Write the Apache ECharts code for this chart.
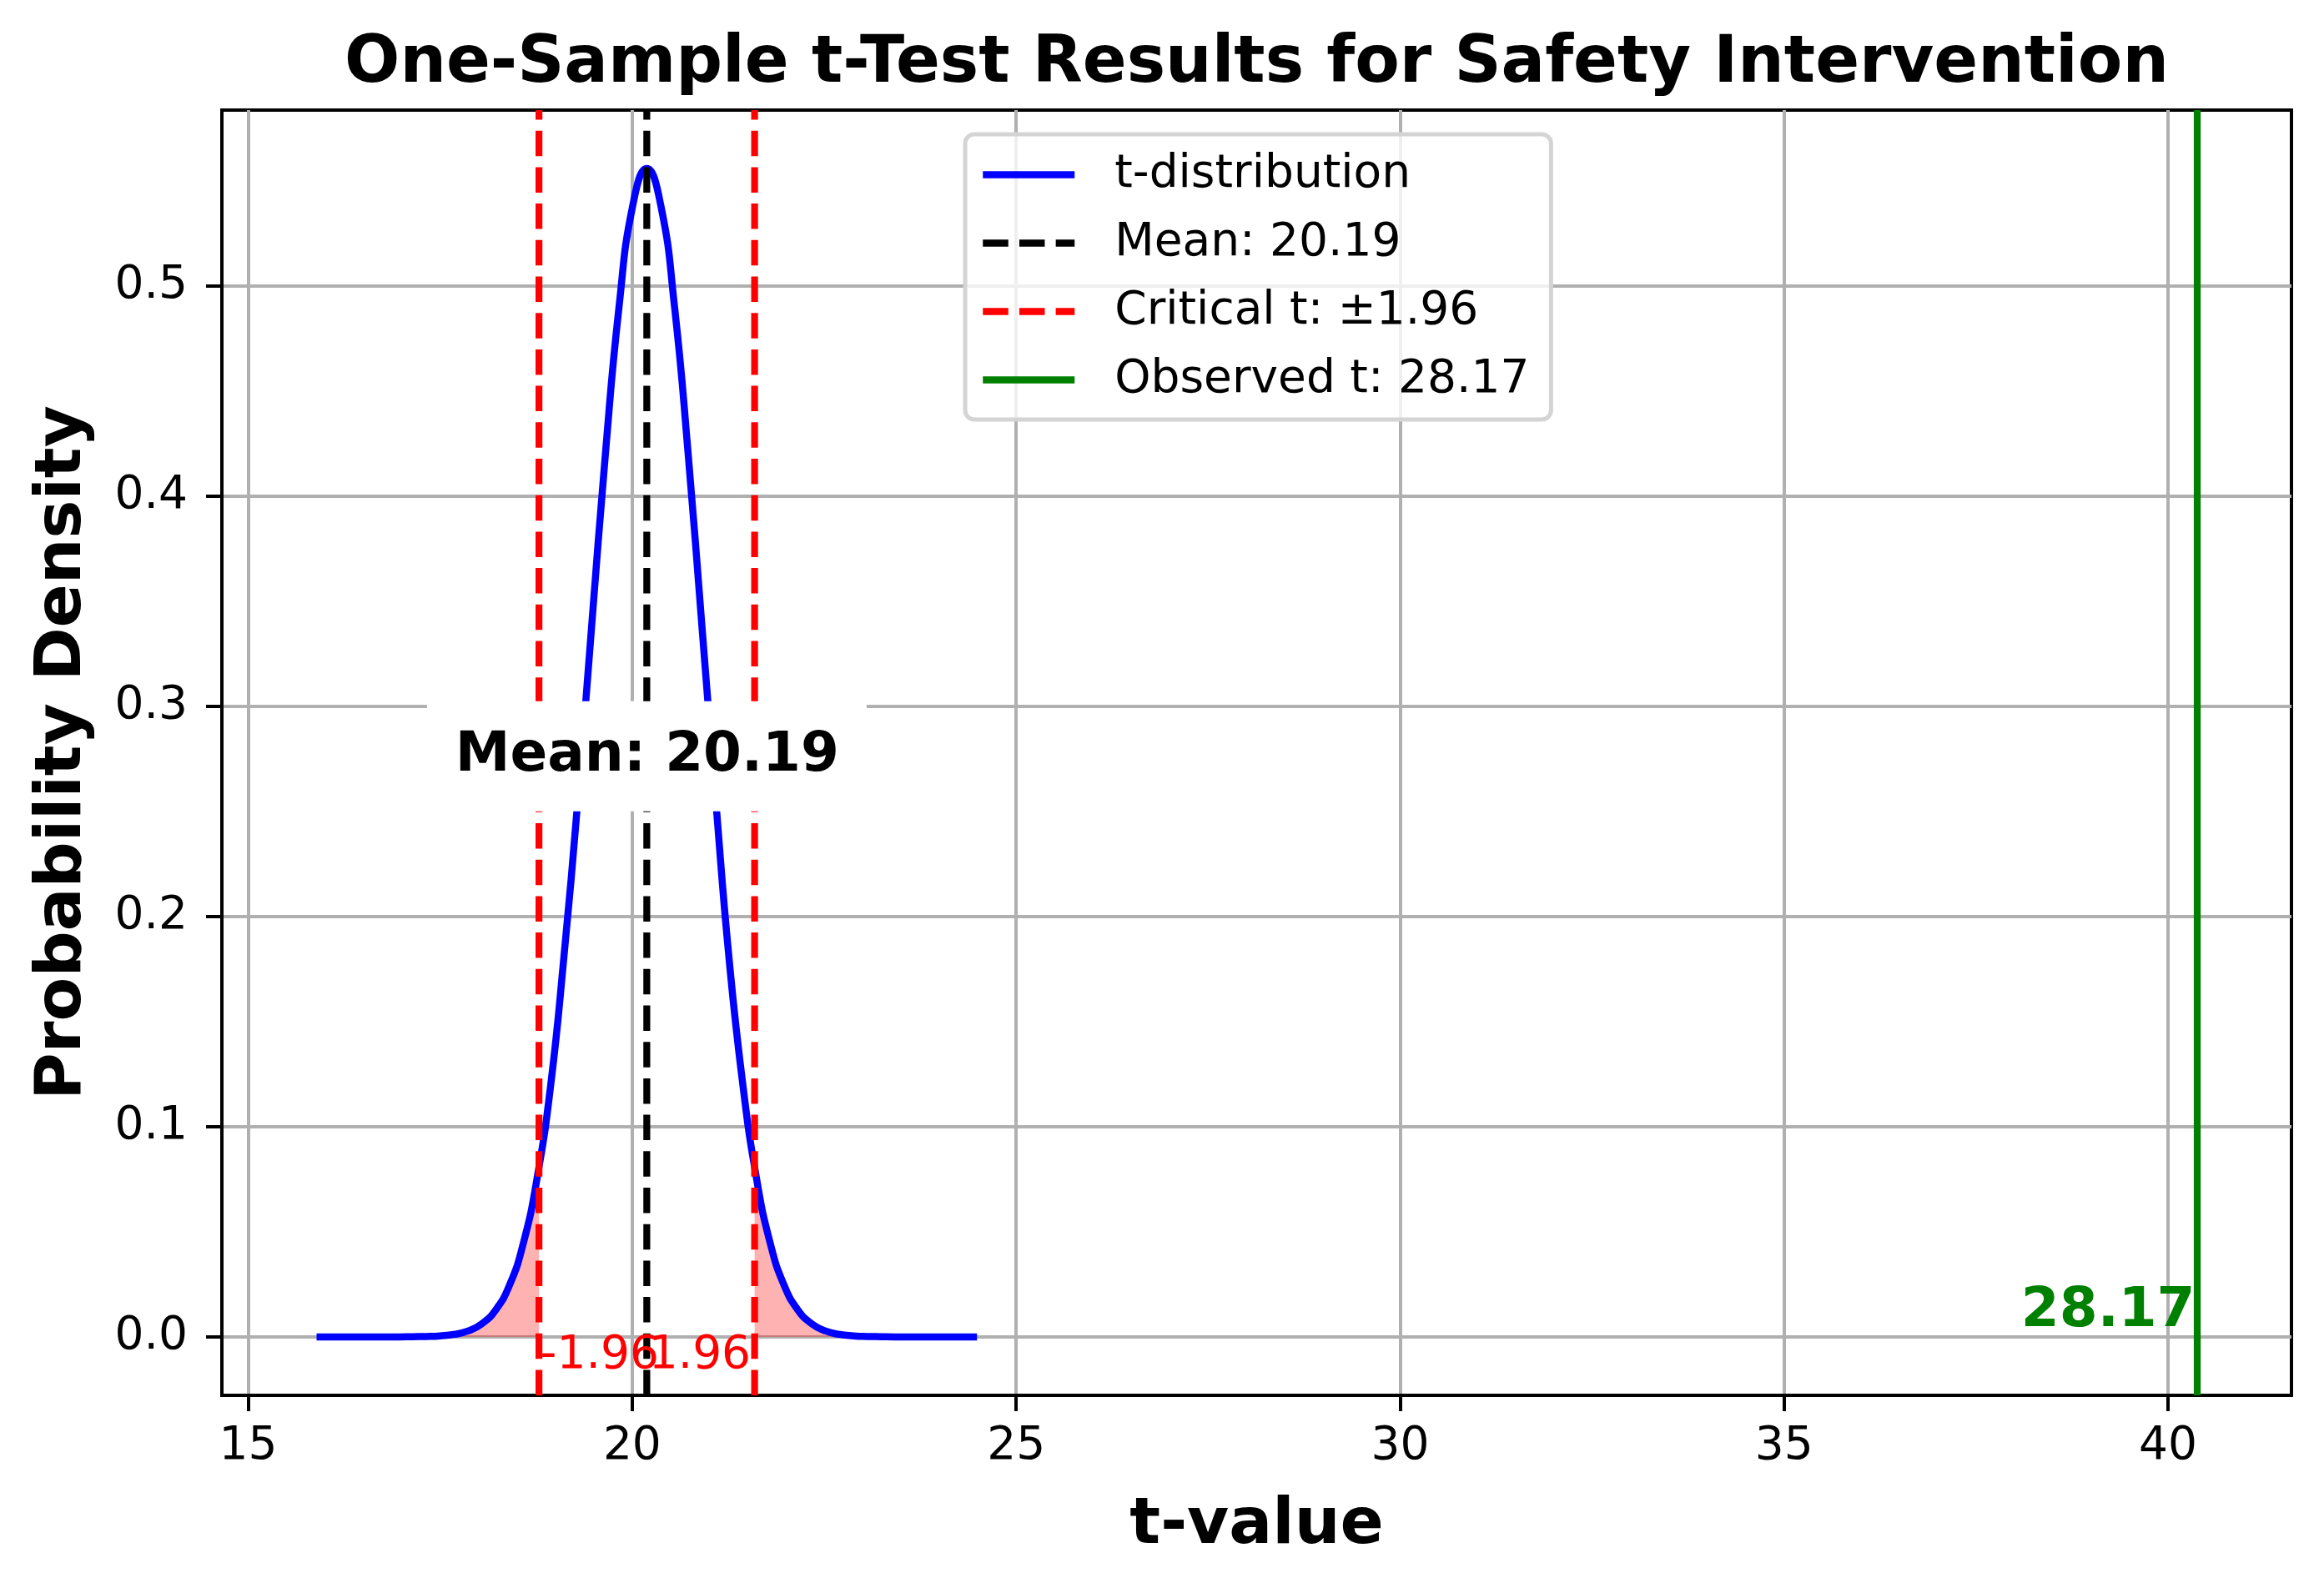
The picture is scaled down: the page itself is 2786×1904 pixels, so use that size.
<!DOCTYPE html>
<html><head><meta charset="utf-8">
<script src="https://cdn.jsdelivr.net/npm/echarts@6/dist/echarts.min.js"></script>
<style>html,body{margin:0;padding:0;background:#fff}#c{width:2786px;height:1904px}</style>
</head><body><div id="c"></div>
<script>
// ---- data ----
const curveX = [15.89, 16.25, 16.61, 16.97, 17.14, 17.32, 17.50, 17.68, 17.86, 18.04, 18.22, 18.40, 18.58, 18.76, 18.94, 19.11, 19.29, 19.47, 19.65, 19.83, 20.01, 20.19, 20.37, 20.55, 20.73, 20.91, 21.09, 21.26, 21.44, 21.62, 21.80, 21.98, 22.16, 22.34, 22.52, 22.70, 22.88, 23.06, 23.24, 23.41, 23.77, 24.13, 24.49];
const curveDensity = [0, 0, 0, 0, 0.0001, 0.0002, 0.0005, 0.0012, 0.0028, 0.0062, 0.0127, 0.0244, 0.0442, 0.0752, 0.1202, 0.1805, 0.2545, 0.3372, 0.4196, 0.4906, 0.5388, 0.5559, 0.5388, 0.4906, 0.4196, 0.3372, 0.2545, 0.1805, 0.1202, 0.0752, 0.0442, 0.0244, 0.0127, 0.0062, 0.0028, 0.0012, 0.0005, 0.0002, 0.0001, 0, 0, 0, 0];
const meanValue = 20.19;
const criticalT = 1.96;
const criticalX = [18.786, 21.594];
const criticalDensity = 0.0814;
const observedT = 28.17;
const observedX = 40.38;
const meanLabelY = 0.279;
const xTicks = [15, 20, 25, 30, 35, 40];
const yTicks = [0, 0.1, 0.2, 0.3, 0.4, 0.5];
const xRange = [14.657, 41.607];
const yRange = [-0.0278, 0.5837];
const legendNames = ['t-distribution', 'Mean: ' + meanValue.toFixed(2), 'Critical t: \u00b1' + criticalT.toFixed(2), 'Observed t: ' + observedT.toFixed(2)];
const titleText = 'One-Sample t-Test Results for Safety Intervention';

// ---- build ----
const FONT = '"DejaVu Sans", sans-serif';
const curve = curveX.map((x, i) => [x, curveDensity[i]]);
const leftTail = curve.filter(p => p[0] <= criticalX[0]).concat([[criticalX[0], criticalDensity]]);
const rightTail = [[criticalX[1], criticalDensity]].concat(curve.filter(p => p[0] >= criticalX[1]));
const vline = x => [[x, yRange[0]], [x, yRange[1]]];

const TITLE_FS = 78;
const meas = document.createElement('canvas').getContext('2d');
meas.font = 'bold ' + TITLE_FS + 'px "DejaVu Sans"';
const titleW = meas.measureText(titleText).width;
const gridL = 266, gridR = 39, gridT = 132, gridB = 231;
const gridCx = gridL + (2786 - gridL - gridR) / 2;

const chart = echarts.init(document.getElementById('c'), null, {renderer: 'canvas'});
const dash = [30.5, 13.2];
chart.setOption({
  animation: false,
  backgroundColor: '#fff',
  textStyle: {fontFamily: FONT},
  title: {
    text: titleText, left: gridCx - titleW / 2, top: 39, padding: 0,
    textStyle: {fontFamily: FONT, fontSize: TITLE_FS, fontWeight: 'bold', color: '#000', lineHeight: 78}
  },
  grid: {left: gridL, right: gridR, top: gridT, bottom: gridB, show: true, borderColor: '#000', borderWidth: 4, backgroundColor: '#fff'},
  legend: {
    data: legendNames.map(n => ({name: n})),
    orient: 'vertical', left: 1157, top: 161,
    itemWidth: 110, itemHeight: 20, itemGap: 27,
    padding: [21, 26, 20, 17],
    backgroundColor: 'rgba(255,255,255,0.8)', borderColor: '#d4d4d4', borderWidth: 5, borderRadius: 11,
    itemStyle: {opacity: 0},
    lineStyle: {width: 8.5},
    textStyle: {fontFamily: FONT, fontSize: 55, lineHeight: 55, color: '#000', padding: [0, 0, 0, 43]},
    selectedMode: false
  },
  xAxis: {
    type: 'value', min: xRange[0], max: xRange[1],
    name: 't-value', nameLocation: 'middle', nameGap: 118,
    nameTextStyle: {fontFamily: FONT, fontSize: 77, fontWeight: 'bold', color: '#000', lineHeight: 77},
    axisLine: {show: true, onZero: false, lineStyle: {color: '#000', width: 4}},
    axisTick: {show: true, inside: false, length: 19, lineStyle: {color: '#000', width: 4}, customValues: xTicks},
    axisLabel: {show: true, margin: 34, fontFamily: FONT, fontSize: 55, color: '#000', customValues: xTicks, formatter: v => String(v)},
    splitLine: {show: true, lineStyle: {color: '#b0b0b0', width: 4}}
  },
  yAxis: {
    type: 'value', min: yRange[0], max: yRange[1],
    name: 'Probability Density', nameLocation: 'middle', nameGap: 152,
    nameTextStyle: {fontFamily: FONT, fontSize: 77, fontWeight: 'bold', color: '#000', lineHeight: 77},
    axisLine: {show: true, onZero: false, lineStyle: {color: '#000', width: 4}},
    axisTick: {show: true, inside: false, length: 19, lineStyle: {color: '#000', width: 4}, customValues: yTicks},
    axisLabel: {show: true, margin: 41, fontFamily: FONT, fontSize: 55, color: '#000', customValues: yTicks, formatter: v => v.toFixed(1)},
    splitLine: {show: true, lineStyle: {color: '#b0b0b0', width: 4}}
  },
  series: [
    {type: 'line', name: legendNames[0], data: curve, smooth: true, symbol: 'none', silent: true, z: 2,
     lineStyle: {color: '#0000ff', width: 8.5}, itemStyle: {color: '#0000ff'}},
    {type: 'line', name: 'tailL', data: leftTail, smooth: true, symbol: 'none', silent: true, z: 2,
     lineStyle: {width: 0}, areaStyle: {color: 'rgba(255,0,0,0.3)', opacity: 1}},
    {type: 'line', name: 'tailR', data: rightTail, smooth: true, symbol: 'none', silent: true, z: 2,
     lineStyle: {width: 0}, areaStyle: {color: 'rgba(255,0,0,0.3)', opacity: 1}},
    {type: 'line', name: legendNames[1], data: vline(meanValue), symbol: 'none', silent: true, z: 3,
     lineStyle: {color: '#000', width: 8.25, type: dash, cap: 'butt'}, itemStyle: {color: '#000'}},
    {type: 'line', name: legendNames[2], data: vline(criticalX[0]), symbol: 'none', silent: true, z: 3,
     lineStyle: {color: '#ff0000', width: 8.25, type: dash, cap: 'butt'}, itemStyle: {color: '#ff0000'}},
    {type: 'line', name: legendNames[2], data: vline(criticalX[1]), symbol: 'none', silent: true, z: 3,
     lineStyle: {color: '#ff0000', width: 8.25, type: dash, cap: 'butt'}, itemStyle: {color: '#ff0000'}},
    {type: 'line', name: legendNames[3], data: vline(observedX), symbol: 'none', silent: true, z: 3,
     lineStyle: {color: '#008000', width: 8.25}, itemStyle: {color: '#008000'}},
    {type: 'scatter', name: 'labels', symbolSize: 1, silent: true, z: 10,
     itemStyle: {color: 'rgba(0,0,0,0)', opacity: 1},
     data: [
       {value: [meanValue, meanLabelY], label: {show: true, formatter: 'Mean: ' + meanValue.toFixed(2), position: 'inside', offset: [0, 7],
         fontFamily: FONT, fontSize: 66, fontWeight: 'bold', color: '#000', opacity: 1, backgroundColor: '#fff', padding: [31, 33, 31, 34], lineHeight: 70}},
       {value: [criticalX[0], 0], label: {show: true, formatter: '-' + criticalT.toFixed(2), position: [0, 0], align: 'left', verticalAlign: 'middle',
         offset: [2, 23], fontFamily: FONT, fontSize: 55, color: '#ff0000', opacity: 1}},
       {value: [criticalX[1], 0], label: {show: true, formatter: criticalT.toFixed(2), position: [0, 0], align: 'right', verticalAlign: 'middle',
         offset: [-4, 23], fontFamily: FONT, fontSize: 55, color: '#ff0000', opacity: 1}},
       {value: [observedX, 0], label: {show: true, formatter: observedT.toFixed(2), position: [0, 0], align: 'right', verticalAlign: 'middle',
         offset: [-2, -30], fontFamily: FONT, fontSize: 66, fontWeight: 'bold', color: '#008000', opacity: 1}}
     ]}
  ]
});
</script></body></html>
